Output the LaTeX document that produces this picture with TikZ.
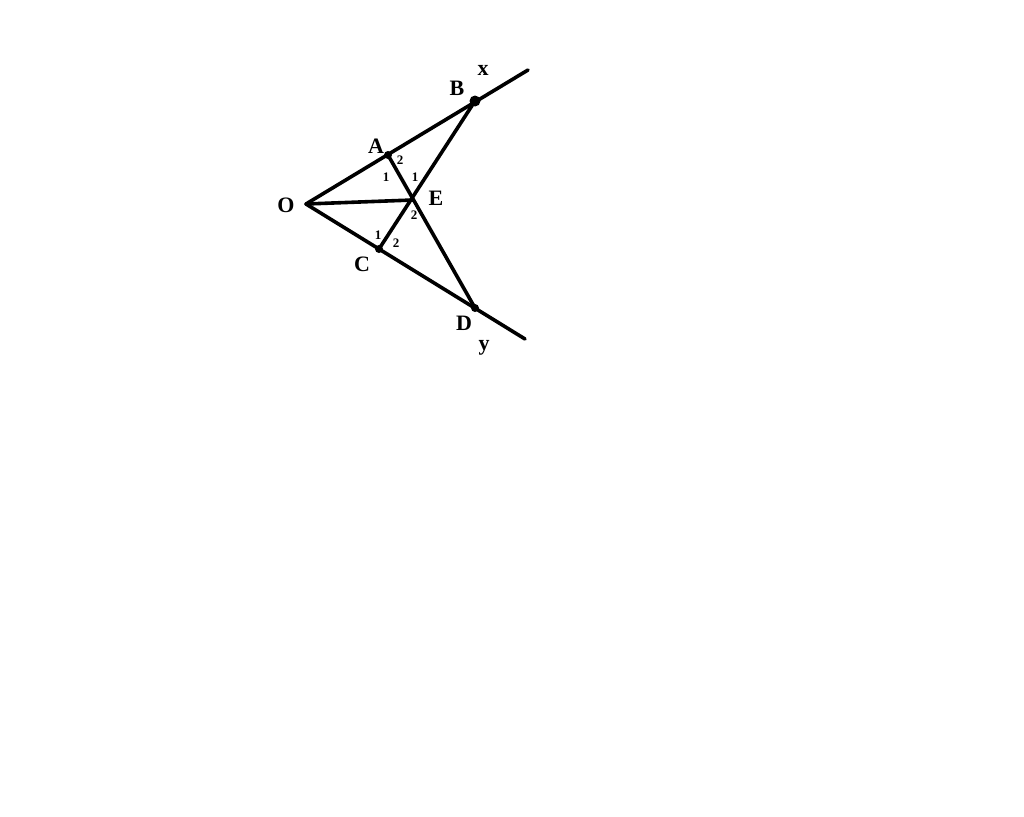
\documentclass[tikz,border=0pt]{standalone}
\usepackage{fontspec}
\setmainfont{Liberation Serif}
\begin{document}
\begin{tikzpicture}[x=1pt,y=-1pt,
  seg/.style={line width=3.6pt,line cap=round},
  lbl/.style={font=\fontsize{22}{24}\selectfont\bfseries,inner sep=0pt},
  ang/.style={font=\fontsize{13}{15}\selectfont\bfseries,inner sep=0pt},
  dotm/.style={circle,fill=black,inner sep=0pt,minimum size=#1}]
\useasboundingbox (0,0) rectangle (1024,816);
\coordinate (O) at (306,204);
\coordinate (A) at (388,155);
\coordinate (B) at (475,101);
\coordinate (X) at (528,70);
\coordinate (C) at (379,249);
\coordinate (D) at (475,308);
\coordinate (Y) at (525,339);
\coordinate (E) at (413,200);
\draw[seg] (O) -- (X);
\draw[seg] (O) -- (Y);
\draw[seg] (A) -- (D);
\draw[seg] (C) -- (B);
\draw[seg] (O) -- (E);
\node[dotm=11pt] (Bd) at (B) {};
\node[dotm=8pt] (Ad) at (A) {};
\node[dotm=8pt] (Cd) at (C) {};
\node[dotm=8pt] (Dd) at (D) {};
\node[lbl] (lx) at (483,70) {x};
\node[lbl] (lB) at (457,88) {B};
\node[lbl] (lA) at (376,146) {A};
\node[lbl] (lO) at (286,205) {O};
\node[lbl] (lE) at (436,198) {E};
\node[lbl] (lC) at (362,264) {C};
\node[lbl] (lD) at (464,323) {D};
\node[lbl] (ly) at (484,348) {y};
\node[ang] (a2) at (400,160) {2};
\node[ang] (a1) at (386,177) {1};
\node[ang] (e1) at (415,177) {1};
\node[ang] (e2) at (414,215) {2};
\node[ang] (c1) at (378,235) {1};
\node[ang] (c2) at (396,243) {2};
\end{tikzpicture}
\end{document}
